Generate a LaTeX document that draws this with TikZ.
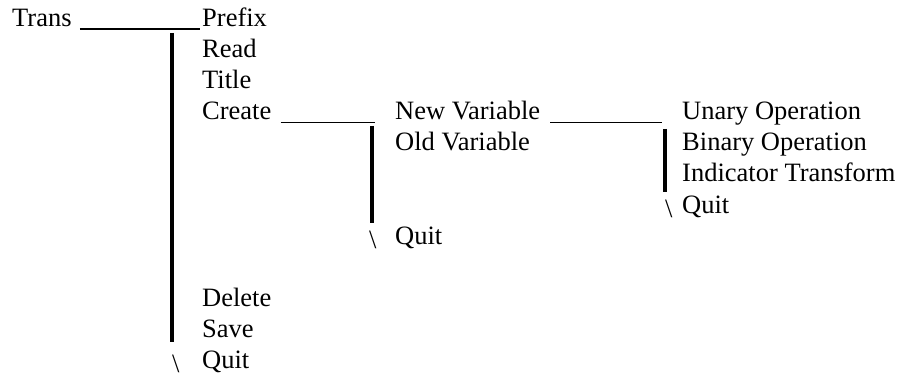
\documentclass[tikz,border=0pt]{standalone}
\usepackage{fontspec}
\setmainfont{Liberation Serif}
\begin{document}
\begin{tikzpicture}[x=1pt,y=-1pt,
  lbl/.style={inner sep=0pt, anchor=base west, font=\fontsize{26.5pt}{31pt}\selectfont},
  bslash/.style={lbl, yshift=-4pt},
  uline/.style={line width=1.3pt},
  vbar/.style={line width=4.5pt}]
\useasboundingbox (0,0) rectangle (904,379);
% level 0/1
\node[lbl] (trans)  at (12,26.5)   {Trans};
\node[lbl] (prefix) at (202,26.5)  {Prefix};
\node[lbl] (read)   at (202,57.6)  {Read};
\node[lbl] (title)  at (202,88.7)  {Title};
\node[lbl] (create) at (202,119.8) {Create};
\node[lbl] (delete) at (202,306.4) {Delete};
\node[lbl] (save)   at (202,337.5) {Save};
\node[bslash] (bsa) at (172,368.6) {\textbackslash};
\node[lbl] (quita)  at (202,368.6) {Quit};
% level 2
\node[lbl] (newvar) at (395,119.8) {New Variable};
\node[lbl] (oldvar) at (395,150.9) {Old Variable};
\node[bslash] (bsb) at (369,244.2) {\textbackslash};
\node[lbl] (quitb)  at (395,244.2) {Quit};
% level 3
\node[lbl] (unary)  at (682,119.8) {Unary Operation};
\node[lbl] (binary) at (682,150.9) {Binary Operation};
\node[lbl] (indic)  at (682,182.0) {Indicator Transform};
\node[bslash] (bsc) at (665,213.1) {\textbackslash};
\node[lbl] (quitc)  at (682,213.1) {Quit};
% horizontal connectors (underscore lines)
\draw[uline] ([shift={(8,2.5)}]trans.base east) -- ([shift={(-2,2.5)}]prefix.base west);
\draw[uline] ([shift={(9,2.5)}]create.base east) -- ([shift={(-20,2.5)}]newvar.base west);
\draw[uline] ([shift={(10,2.5)}]newvar.base east) -- ([shift={(-20,2.5)}]unary.base west);
% vertical bars
\coordinate (ta) at (172,33);  \coordinate (ba) at (172,342);
\coordinate (tb) at (372,126); \coordinate (bb) at (372,223);
\coordinate (tc) at (665,129); \coordinate (bc) at (665,192);
\draw[vbar] (ta) -- (ba);
\draw[vbar] (tb) -- (bb);
\draw[vbar] (tc) -- (bc);
\end{tikzpicture}
\end{document}
